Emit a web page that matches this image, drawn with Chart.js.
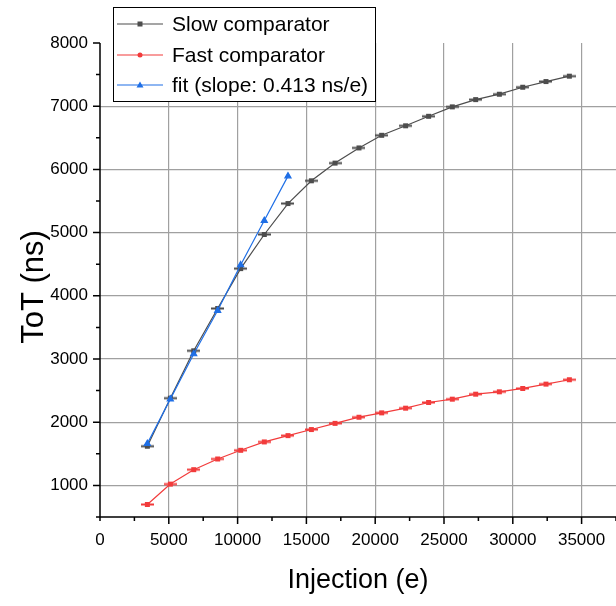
<!DOCTYPE html>
<html>
<head>
<meta charset="utf-8">
<script src="https://cdn.jsdelivr.net/npm/chart.js@4/dist/chart.umd.min.js"></script>
<style>
  html, body { margin: 0; padding: 0; background: #fff; }
  #wrap { width: 616px; height: 606px; }
</style>
</head>
<body>
<div id="wrap"><canvas id="totchart" width="616" height="606"></canvas></div>
<script>
// values
const injection = [3440, 5110, 6810, 8550, 10220, 11940, 13660, 15360, 17080, 18820,
  20470, 22210, 23880, 25600, 27300, 29020, 30720, 32410, 34110];
const slowToT = [1620, 2380, 3130, 3800, 4430, 4970, 5460, 5820, 6100, 6340,
  6540, 6690, 6840, 6990, 7105, 7190, 7300, 7390, 7475];
const fastToT = [698, 1021, 1249, 1418, 1556, 1688, 1788, 1884, 1982, 2079,
  2148, 2222, 2312, 2365, 2444, 2481, 2534, 2603, 2672];
const fitInjection = [3440, 5110, 6810, 8550, 10220, 11940, 13660];
const fitToT = [1661, 2365, 3079, 3767, 4487, 5190, 5894];
const seriesNames = ['Slow comparator', 'Fast comparator', 'fit (slope: 0.413 ns/e)'];
const xTicks = [0, 5000, 10000, 15000, 20000, 25000, 30000, 35000];
const yTicks = [1000, 2000, 3000, 4000, 5000, 6000, 7000, 8000];

const FONT = '"Liberation Sans", Arial, sans-serif';
const slowCol = '#4d4d4d', fastCol = '#f23b3b', fitCol = '#1f6fe6';

// square marker with a small horizontal bar through it
function barMarker(color) {
  const c = document.createElement('canvas');
  c.width = 13; c.height = 7;
  const g = c.getContext('2d');
  g.fillStyle = color;
  g.fillRect(0, 2.5, 13, 2);
  g.fillRect(4, 1, 5, 5);
  return c;
}

function toXY(xs, ys) {
  return xs.map((x, i) => ({ x: x, y: ys[i] }));
}

// ticks, titles and the boxed legend
const decor = {
  id: 'decor',
  afterDraw(chart) {
    const c = chart.ctx;
    const xs = chart.scales.x, ys = chart.scales.y;
    const a = chart.chartArea;
    c.save();
    c.strokeStyle = '#000';
    c.lineWidth = 1.5;
    c.beginPath();
    c.moveTo(a.left - 4, a.bottom); c.lineTo(a.right, a.bottom);
    c.moveTo(a.left, a.top); c.lineTo(a.left, a.bottom + 4);
    for (let v = 2500; v <= 37500; v += 2500) {
      const px = xs.getPixelForValue(v);
      const len = v % 5000 === 0 ? 7 : 4;
      c.moveTo(px, a.bottom); c.lineTo(px, a.bottom + len);
    }
    for (let v = 1000; v <= 8000; v += 500) {
      const py = ys.getPixelForValue(v);
      const len = v % 1000 === 0 ? 7 : 4;
      c.moveTo(a.left, py); c.lineTo(a.left - len, py);
    }
    c.stroke();

    c.fillStyle = '#000';
    c.font = '27px ' + FONT;
    c.textAlign = 'center';
    c.textBaseline = 'middle';
    c.fillText('Injection (e)', (a.left + a.right) / 2, 581);
    c.save();
    c.translate(34, 287);
    c.rotate(-Math.PI / 2);
    c.font = '31px ' + FONT;
    c.fillText('ToT (ns)', 0, 0);
    c.restore();

    // legend
    const bx = 113.5, by = 7.5, bw = 262, bh = 94;
    c.fillStyle = '#fff';
    c.fillRect(bx, by, bw, bh);
    c.strokeStyle = '#000';
    c.lineWidth = 1;
    c.strokeRect(bx, by, bw, bh);
    const rows = [24, 55, 85];
    chart.data.datasets.forEach((ds, i) => {
      const yy = rows[i];
      c.strokeStyle = ds.borderColor;
      c.lineWidth = 1.2;
      c.beginPath(); c.moveTo(117, yy); c.lineTo(163, yy); c.stroke();
      c.fillStyle = ds.borderColor;
      if (i === 2) {
        c.beginPath();
        c.moveTo(140, yy - 3.5); c.lineTo(143.5, yy + 2.5); c.lineTo(136.5, yy + 2.5);
        c.closePath(); c.fill();
      } else if (i === 1) {
        c.beginPath(); c.arc(140, yy, 2.5, 0, Math.PI * 2); c.fill();
      } else {
        c.fillRect(137.5, yy - 2.5, 5, 5);
      }
      c.fillStyle = '#000';
      c.font = '21px ' + FONT;
      c.textAlign = 'left';
      c.fillText(ds.label, 172, yy + 1);
    });
    c.restore();
  }
};

const plain = v => String(v);

const ctxEl = document.getElementById('totchart');
const totChart = new Chart(ctxEl, {
  type: 'line',
  data: {
    datasets: [
      {
        label: seriesNames[0],
        data: toXY(injection, slowToT),
        borderColor: slowCol,
        backgroundColor: slowCol,
        borderWidth: 1.2,
        pointStyle: barMarker(slowCol),
        order: 1
      },
      {
        label: seriesNames[1],
        data: toXY(injection, fastToT),
        borderColor: fastCol,
        backgroundColor: fastCol,
        borderWidth: 1.2,
        pointStyle: barMarker(fastCol),
        order: 2
      },
      {
        label: seriesNames[2],
        data: toXY(fitInjection, fitToT),
        borderColor: fitCol,
        backgroundColor: fitCol,
        borderWidth: 1.2,
        pointStyle: 'triangle',
        pointRadius: 3.5,
        order: 0
      }
    ]
  },
  options: {
    responsive: false,
    animation: false,
    events: [],
    layout: { autoPadding: false, padding: { top: 43, right: 0, left: 0, bottom: 0 } },
    plugins: { legend: { display: false }, tooltip: { enabled: false } },
    scales: {
      x: {
        type: 'linear',
        min: 0,
        max: 37500,
        afterFit: s => { s.height = 89; s.paddingLeft = 0; s.paddingRight = 0; },
        afterBuildTicks: s => { s.ticks = xTicks.map(v => ({ value: v })); },
        grid: {
          drawTicks: false,
          color: ctx => (ctx.tick && ctx.tick.value > 0 ? '#a0a0a0' : 'rgba(0,0,0,0)'),
          lineWidth: 1.2
        },
        border: { display: false },
        ticks: {
          padding: 13,
          color: '#000',
          maxRotation: 0,
          autoSkip: false,
          callback: plain,
          font: { family: FONT, size: 17 }
        }
      },
      y: {
        type: 'linear',
        min: 500,
        max: 8000,
        afterFit: s => { s.width = 100; s.paddingTop = 0; s.paddingBottom = 0; },
        afterBuildTicks: s => { s.ticks = yTicks.map(v => ({ value: v })); },
        grid: {
          drawTicks: false,
          color: ctx => (ctx.tick && ctx.tick.value < 8000 ? '#a0a0a0' : 'rgba(0,0,0,0)'),
          lineWidth: 1.2
        },
        border: { display: false },
        ticks: {
          padding: 12,
          color: '#000',
          autoSkip: false,
          callback: plain,
          font: { family: FONT, size: 17 }
        }
      }
    }
  },
  plugins: [decor]
});
</script>
</body>
</html>
